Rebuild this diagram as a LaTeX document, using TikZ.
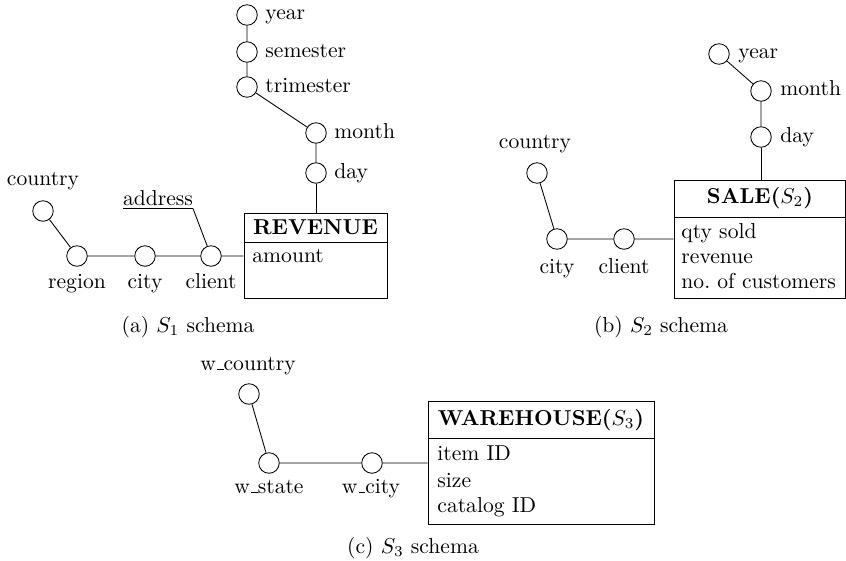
\documentclass[tikz,border=0pt]{standalone}
\usetikzlibrary{fit}
\newcommand{\wus}{\leavevmode\kern.06em\vbox{\hrule width.3em}}
\begin{document}
\begin{tikzpicture}[x=0.463pt,y=-0.463pt,
  attr/.style={circle,draw,minimum size=9.5pt,inner sep=0pt},
  lbl/.style={inner sep=0pt},
  box/.style={draw,inner sep=0pt}]
\useasboundingbox (0,0) rectangle (846,560);

% ---------------- (a) S1 ----------------
\node[attr] (a-year)    at (247,15)  {};
\node[attr] (a-sem)     at (247,52)  {};
\node[attr] (a-tri)     at (247,87)  {};
\node[attr] (a-month)   at (316,133) {};
\node[attr] (a-day)     at (316,173) {};
\node[attr] (a-country) at (43,211)  {};
\node[attr] (a-region)  at (77,256)  {};
\node[attr] (a-city)    at (145,256) {};
\node[attr] (a-client)  at (211,256) {};

\node[lbl,anchor=base west] (a-year-l)  at (265,20)  {year};
\node[lbl,anchor=base west] (a-sem-l)   at (265,57)  {semester};
\node[lbl,anchor=base west] (a-tri-l)   at (265,92)  {trimester};
\node[lbl,anchor=base west] (a-month-l) at (334,138) {month};
\node[lbl,anchor=base west] (a-day-l)   at (334,178) {day};
\node[lbl,anchor=base] (a-country-l) at (43,185)  {country};
\node[lbl,anchor=base] (a-region-l)  at (77,288)  {region};
\node[lbl,anchor=base] (a-city-l)    at (145,288) {city};
\node[lbl,anchor=base] (a-client-l)  at (211,288) {client};
\node[lbl,anchor=base] (a-addr)      at (158,205) {\underline{address}};
\coordinate (a-addr-end) at (193,208.5);

\coordinate (a-box-nw) at (244,213);
\coordinate (a-box-se) at (387,298);
\node[box,fit=(a-box-nw)(a-box-se)] (a-box) {};
\coordinate (a-hl) at (244,242);
\coordinate (a-hr) at (387,242);
\draw (a-hl) -- (a-hr);
\node[lbl,anchor=base] (a-title) at (315.5,234) {\textbf{REVENUE}};
\node[lbl,anchor=base west] (a-amount) at (252,262) {amount};

\draw (a-year) -- (a-sem) -- (a-tri) -- (a-month) -- (a-day);
\draw (a-day) -- (a-day |- a-box.north);
\draw (a-country) -- (a-region) -- (a-city) -- (a-client) -- (a-client -| a-box.west);
\draw (a-addr-end) -- (a-client);

\node[lbl,anchor=base] (a-cap) at (188,332) {(a) $S_1$ schema};

% ---------------- (b) S2 ----------------
\node[attr] (b-year)    at (719,54)  {};
\node[attr] (b-month)   at (761,91)  {};
\node[attr] (b-day)     at (761,137) {};
\node[attr] (b-country) at (537,173) {};
\node[attr] (b-city)    at (557,239) {};
\node[attr] (b-client)  at (624,239) {};

\node[lbl,anchor=base west] (b-year-l)  at (738,58)  {year};
\node[lbl,anchor=base west] (b-month-l) at (780,95)  {month};
\node[lbl,anchor=base west] (b-day-l)   at (780,142) {day};
\node[lbl,anchor=base] (b-country-l) at (535,148) {country};
\node[lbl,anchor=base] (b-city-l)    at (557,273) {city};
\node[lbl,anchor=base] (b-client-l)  at (624,273) {client};

\coordinate (b-box-nw) at (674,180);
\coordinate (b-box-se) at (845,298);
\node[box,fit=(b-box-nw)(b-box-se)] (b-box) {};
\coordinate (b-hl) at (674,217);
\coordinate (b-hr) at (845,217);
\draw (b-hl) -- (b-hr);
\node[lbl,anchor=base] (b-title) at (760,203) {\textbf{SALE($S_2$)}};
\node[lbl,anchor=base west] (b-qty) at (681,238) {qty sold};
\node[lbl,anchor=base west] (b-rev) at (681,263) {revenue};
\node[lbl,anchor=base west] (b-noc) at (681,288) {no.\ of customers};

\draw (b-year) -- (b-month) -- (b-day);
\draw (b-day) -- (b-day |- b-box.north);
\draw (b-country) -- (b-city) -- (b-client) -- (b-client -| b-box.west);

\node[lbl,anchor=base] (b-cap) at (661,332) {(b) $S_2$ schema};

% ---------------- (c) S3 ----------------
\node[attr] (c-country) at (249,394) {};
\node[attr] (c-state)   at (269,463) {};
\node[attr] (c-city)    at (372,463) {};

\node[lbl,anchor=base] (c-country-l) at (248,370) {w\wus country};
\node[lbl,anchor=base] (c-state-l)   at (269,493) {w\wus state};
\node[lbl,anchor=base] (c-city-l)    at (371,493) {w\wus city};

\coordinate (c-box-nw) at (428,401);
\coordinate (c-box-se) at (654,524);
\node[box,fit=(c-box-nw)(c-box-se)] (c-box) {};
\coordinate (c-hl) at (428,438);
\coordinate (c-hr) at (654,438);
\draw (c-hl) -- (c-hr);
\node[lbl,anchor=base] (c-title) at (541,425) {\textbf{WAREHOUSE($S_3$)}};
\node[lbl,anchor=base west] (c-item) at (437,460) {item ID};
\node[lbl,anchor=base west] (c-size) at (437,487) {size};
\node[lbl,anchor=base west] (c-cat)  at (437,512) {catalog ID};

\draw (c-country) -- (c-state) -- (c-city) -- (c-city -| c-box.west);

\node[lbl,anchor=base] (c-cap) at (413,553) {(c) $S_3$ schema};
\end{tikzpicture}
\end{document}
